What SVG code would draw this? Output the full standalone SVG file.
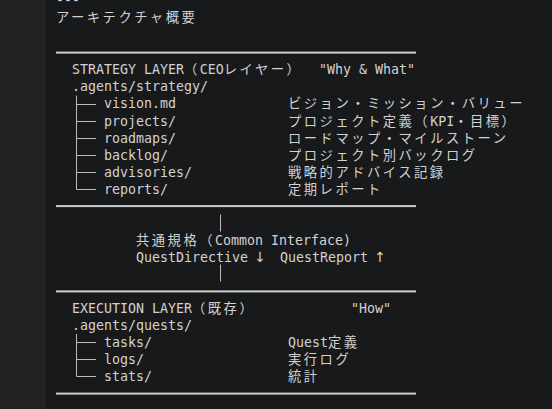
<svg xmlns="http://www.w3.org/2000/svg" width="552" height="409" viewBox="0 0 552 409">
<style>
text{font-family:"DejaVu Sans Mono","Liberation Mono","Noto Sans CJK JP",monospace;font-size:13.3px;fill:#d2d2d2}
.j{font-family:"Noto Sans CJK JP","Noto Sans CJK SC",sans-serif;letter-spacing:2.5px}
.ar{font-family:"Noto Sans","DejaVu Sans",sans-serif;font-size:14px}
.rule{fill:#cfcfcf}
.tree{stroke:#bdbdbd;stroke-width:1;fill:none}
</style>
<rect x="0" y="0" width="552" height="409" fill="#18191b"/>
<rect x="0" y="0" width="46" height="409" fill="#222220"/>
<g id="header">
<text x="56" y="5.3">---</text>
<text x="56" y="22.3" class="j">アーキテクチャ概要</text>
</g>
<g id="rules">
<rect class="rule" x="56" y="51.6" width="360" height="2"/>
<rect class="rule" x="56" y="205.1" width="360" height="2"/>
<rect class="rule" x="56" y="290.4" width="360" height="2"/>
<rect class="rule" x="56" y="392.6" width="360" height="2"/>
</g>
<g id="strategy-layer">
<text y="74.3"><tspan x="72">STRATEGY LAYER</tspan><tspan x="184" class="j">（</tspan><tspan x="199.8">CEO</tspan><tspan x="223.8" class="j">レイヤー）</tspan><tspan x="319">"Why &amp; What"</tspan></text>
<text x="72" y="91.4">.agents/strategy/</text>
<text y="108.4"><tspan x="104">vision.md</tspan><tspan x="288" class="j">ビジョン・ミッション・バリュー</tspan></text>
<text y="125.5"><tspan x="104">projects/</tspan><tspan x="288" class="j">プロジェクト定義（</tspan><tspan x="430.2">KPI</tspan><tspan x="454.2" class="j">・目標）</tspan></text>
<text y="142.5"><tspan x="104">roadmaps/</tspan><tspan x="288" class="j">ロードマップ・マイルストーン</tspan></text>
<text y="159.6"><tspan x="104">backlog/</tspan><tspan x="288" class="j">プロジェクト別バックログ</tspan></text>
<text y="176.6"><tspan x="104">advisories/</tspan><tspan x="288" class="j">戦略的アドバイス記録</tspan></text>
<text y="193.7"><tspan x="104">reports/</tspan><tspan x="288" class="j">定期レポート</tspan></text>
</g>
<g id="interface">
<text y="244.7"><tspan x="136" class="j">共通規格（</tspan><tspan x="215">Common Interface)</tspan></text>
<text y="261.7"><tspan x="136">QuestDirective</tspan><tspan x="280">QuestReport</tspan></text>
<text class="ar" x="260" y="262" text-anchor="middle">↓</text>
<text class="ar" x="380" y="262" text-anchor="middle">↑</text>
</g>
<g id="execution-layer">
<text y="312.7"><tspan x="72">EXECUTION LAYER</tspan><tspan x="192" class="j">（既存）</tspan><tspan x="351">"How"</tspan></text>
<text x="72" y="329.7">.agents/quests/</text>
<text y="346.8"><tspan x="104">tasks/</tspan><tspan x="288">Quest</tspan><tspan x="328" class="j">定義</tspan></text>
<text y="363.8"><tspan x="104">logs/</tspan><tspan x="288" class="j">実行ログ</tspan></text>
<text y="380.9"><tspan x="104">stats/</tspan><tspan x="288" class="j">統計</tspan></text>
</g>
<g id="connectors">
<path class="tree" d="M76.5 95.5V189.5M76.5 104.5H96M76.5 121.5H96M76.5 138.5H96M76.5 155.5H96M76.5 172.5H96M76.5 189.5H96"/>
<path class="tree" d="M76.5 334V376.5M76.5 342.5H96M76.5 359.5H96M76.5 376.5H96"/>
<path class="tree" d="M220.5 214.5V231.5M220.5 264.5V281.5"/>
</g>
</svg>
